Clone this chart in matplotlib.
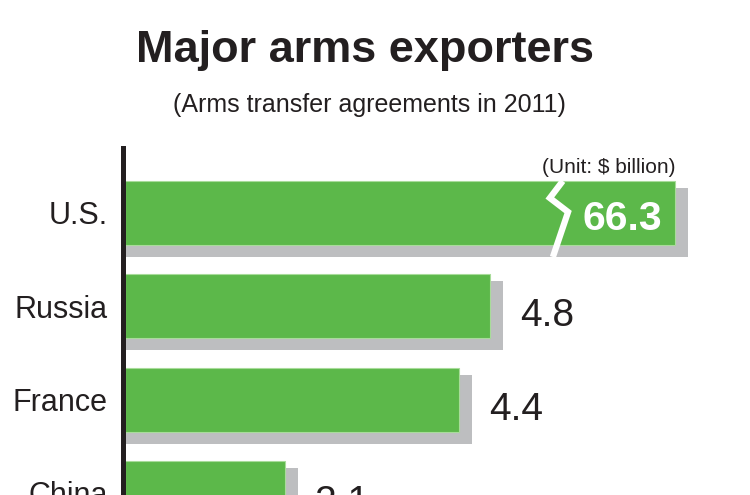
import matplotlib
matplotlib.use("Agg")
import matplotlib.pyplot as plt
import numpy as np

countries = ["U.S.", "Russia", "France", "China"]
values = [66.3, 4.8, 4.4, 2.1]

title = "Major arms exporters"
subtitle = "(Arms transfer agreements in 2011)"
unit_note = "(Unit: $ billion)"

GREEN = "#5cb84a"
SHADOW = "#bdbec0"
AXIS = "#231f20"
TEXT = "#231f20"

# the U.S. bar is drawn cut off, as in the original graphic
us_break = 7.24

plt.rcParams["font.family"] = ["Liberation Sans", "DejaVu Sans"]

fig = plt.figure(figsize=(7.5, 4.95), dpi=100)
W, H = 750, 495
px_per_unit = 76.0
row_px = 93.3
first_center = 213
ax_left, ax_top = 122.5, 148
ax = fig.add_axes([ax_left / W, 0, 1 - ax_left / W, 1 - ax_top / H])

x0 = -(125 - ax_left) / px_per_unit
ax.set_xlim(x0, x0 + (W - ax_left) / px_per_unit)
ax.set_ylim((H - first_center) / row_px, (ax_top - first_center) / row_px)

ypos = np.arange(len(countries))
shown = [min(v, us_break) for v in values]
bar_h = 64 / row_px

# drop shadows: a bit lower and wider than the green bars
shadow_dy = 9.5 / row_px
shadow_h = 69 / row_px
shadow_dx = 13 / px_per_unit
ax.barh(ypos + shadow_dy, [s + shadow_dx for s in shown], height=shadow_h,
        color=SHADOW, zorder=1)
ax.barh(ypos, shown, height=bar_h, color=GREEN, edgecolor="#a8dc9a",
        linewidth=0.8, zorder=2)

# break mark across the U.S. bar
bx = us_break - 1.65
top = -bar_h / 2
zig_x = [bx + 0.17, bx, bx + 0.24, bx + 0.04]
zig_y = [top, top + 17 / row_px, top + 31 / row_px, top + 76 / row_px]
ax.plot(zig_x, zig_y, color="white", lw=4.5, solid_joinstyle="miter",
        solid_capstyle="butt", zorder=3)

# value labels
ax.text(shown[0] - 13 / px_per_unit, 17 / row_px, f"{values[0]:.1f}", ha="right",
        va="baseline", color="white", fontsize=29.5, fontweight="bold", zorder=4)
for i in range(1, len(values)):
    ax.text(shown[i] + shadow_dx + 17 / px_per_unit, i + 20 / row_px, f"{values[i]:.1f}",
            ha="left", va="baseline", color=TEXT, fontsize=28, zorder=4)

ax.set_yticks(ypos)
ax.set_yticklabels(countries, fontsize=22, color=TEXT)
ax.tick_params(axis="y", length=0, pad=10.5)
ax.set_xticks([])
for side in ["top", "right", "bottom"]:
    ax.spines[side].set_visible(False)
ax.spines["left"].set_linewidth(3.6)
ax.spines["left"].set_color(AXIS)
ax.patch.set_alpha(0)

fig.text(365 / W, 1 - 62 / H, title, ha="center", va="baseline",
         fontsize=32.5, fontweight="bold", color=TEXT)
fig.text(369 / W, 1 - 112 / H, subtitle, ha="center", va="baseline",
         fontsize=18, color=TEXT)
fig.text(676 / W, 1 - 173 / H, unit_note, ha="right", va="baseline",
         fontsize=15, color=TEXT)

fig.savefig("out.png", dpi=100)
